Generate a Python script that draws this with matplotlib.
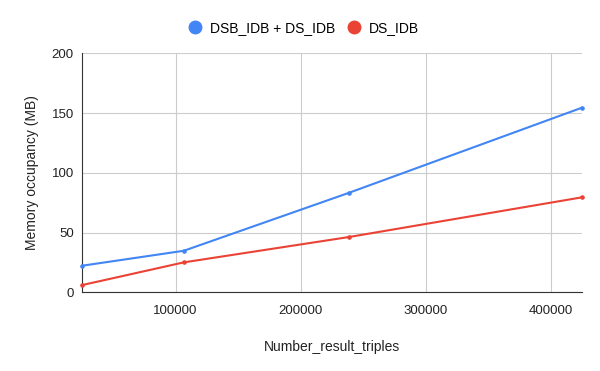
import matplotlib
matplotlib.use("Agg")
import matplotlib.pyplot as plt
from matplotlib.lines import Line2D

plt.rcParams['font.family'] = ['Liberation Sans', 'DejaVu Sans']

triples = [25300, 106600, 238600, 424800]
dsb_ds = [22.3, 34.8, 83.3, 154.5]
ds_only = [6.1, 25.1, 46.3, 79.5]
labels = ['DSB_IDB + DS_IDB', 'DS_IDB']
colors = ['#4285F4', '#EA4335']

fig = plt.figure(figsize=(6, 3.71), dpi=100)
ax = fig.add_axes([0.137, 0.212, 0.8325, 0.644])

for vals, lab, col in zip([dsb_ds, ds_only], labels, colors):
    ax.plot(triples, vals, color=col, lw=1.5, marker='o', ms=2.3, label=lab,
            clip_on=False, zorder=3)

ax.set_xlim(triples[0], triples[-1])
ax.set_ylim(0, 200)
ax.set_xticks([100000, 200000, 300000, 400000])
ax.set_yticks([0, 50, 100, 150, 200])
ax.grid(color='#cccccc', lw=0.8)
ax.set_axisbelow(True)
for s in ['top', 'right']:
    ax.spines[s].set_visible(False)
ax.spines['left'].set_color('#333333')
ax.spines['bottom'].set_color('#333333')
ax.tick_params(length=0, labelsize=9.5, colors='#222222', pad=6)
ax.tick_params(axis='x', pad=9)

ax.set_xlabel('Number_result_triples', fontsize=10, color='#222222', labelpad=17)
ax.set_ylabel('Memory occupancy (MB)', fontsize=10, color='#222222', labelpad=9)

handles = [Line2D([], [], ls='', marker='o', ms=9, color=c) for c in colors]
fig.legend(handles, labels, loc='center', bbox_to_anchor=(0.5, 0.925), ncol=2,
           frameon=False, fontsize=10, handletextpad=0.1, columnspacing=0.35)

fig.savefig('out.png', dpi=100)
